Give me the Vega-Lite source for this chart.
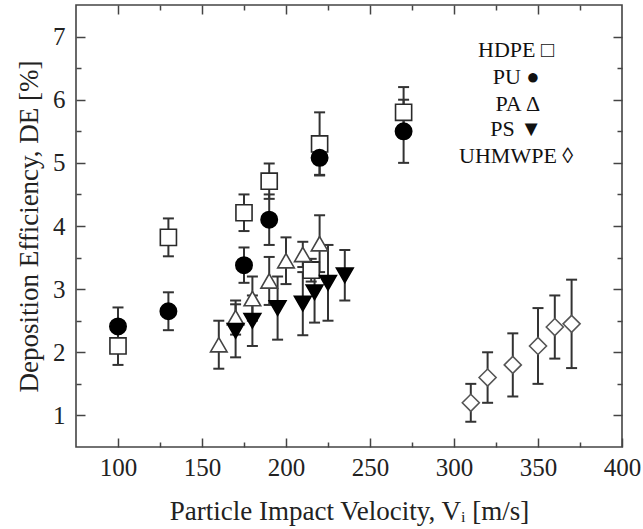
{
  "$schema": "https://vega.github.io/schema/vega-lite/v6.json",
  "width": 546,
  "height": 442,
  "autosize": "none",
  "padding": {"left": 76, "top": 5, "right": 21, "bottom": 82},
  "background": "white",
  "config": {
    "view": {"stroke": "#444", "strokeWidth": 1.6},
    "font": "Liberation Serif",
    "style": {"guide-label": {"font": "Liberation Serif", "fontSize": 25, "fill": "#222"}, "guide-title": {"font": "Liberation Serif", "fontSize": 27, "fontWeight": "normal", "fill": "#222"}},
    "axis": {"labelFont": "Liberation Serif", "labelFontSize": 25, "labelColor": "#222", "titleFont": "Liberation Serif", "titleFontWeight": "normal", "titleColor": "#222", "domain": false, "grid": false, "tickColor": "#444", "tickWidth": 1.5}
  },
  "datasets": {
    "pts": [
      {"s": "HDPE", "v": 100, "de": 2.1, "lo": 1.8, "hi": 2.4},
      {"s": "HDPE", "v": 130, "de": 3.82, "lo": 3.52, "hi": 4.12},
      {"s": "HDPE", "v": 175, "de": 4.21, "lo": 3.92, "hi": 4.5},
      {"s": "HDPE", "v": 190, "de": 4.71, "lo": 4.43, "hi": 4.99},
      {"s": "HDPE", "v": 215, "de": 3.3, "lo": 3.12, "hi": 3.48},
      {"s": "HDPE", "v": 220, "de": 5.3, "lo": 4.8, "hi": 5.8},
      {"s": "HDPE", "v": 270, "de": 5.8, "lo": 5.4, "hi": 6.2},
      {"s": "PU", "v": 100, "de": 2.41, "lo": 2.11, "hi": 2.71},
      {"s": "PU", "v": 130, "de": 2.65, "lo": 2.35, "hi": 2.95},
      {"s": "PU", "v": 175, "de": 3.38, "lo": 3.1, "hi": 3.66},
      {"s": "PU", "v": 190, "de": 4.1, "lo": 3.7, "hi": 4.5},
      {"s": "PU", "v": 220, "de": 5.08, "lo": 4.81, "hi": 5.35},
      {"s": "PU", "v": 270, "de": 5.5, "lo": 5.0, "hi": 6.0},
      {"s": "PA", "v": 160, "de": 2.12, "lo": 1.74, "hi": 2.5},
      {"s": "PA", "v": 170, "de": 2.55, "lo": 2.28, "hi": 2.82},
      {"s": "PA", "v": 180, "de": 2.85, "lo": 2.5, "hi": 3.2},
      {"s": "PA", "v": 190, "de": 3.13, "lo": 2.75, "hi": 3.51},
      {"s": "PA", "v": 200, "de": 3.45, "lo": 3.08, "hi": 3.82},
      {"s": "PA", "v": 210, "de": 3.55, "lo": 3.35, "hi": 3.75},
      {"s": "PA", "v": 220, "de": 3.72, "lo": 3.27, "hi": 4.17},
      {"s": "PS", "v": 170, "de": 2.34, "lo": 1.92, "hi": 2.76},
      {"s": "PS", "v": 180, "de": 2.5, "lo": 2.1, "hi": 2.9},
      {"s": "PS", "v": 195, "de": 2.7, "lo": 2.2, "hi": 3.2},
      {"s": "PS", "v": 210, "de": 2.77, "lo": 2.27, "hi": 3.27},
      {"s": "PS", "v": 217, "de": 2.95, "lo": 2.47, "hi": 3.43},
      {"s": "PS", "v": 225, "de": 3.1, "lo": 2.5, "hi": 3.7},
      {"s": "PS", "v": 235, "de": 3.22, "lo": 2.82, "hi": 3.62},
      {"s": "UHMWPE", "v": 310, "de": 1.2, "lo": 0.9, "hi": 1.5},
      {"s": "UHMWPE", "v": 320, "de": 1.6, "lo": 1.2, "hi": 2.0},
      {"s": "UHMWPE", "v": 335, "de": 1.8, "lo": 1.3, "hi": 2.3},
      {"s": "UHMWPE", "v": 350, "de": 2.1, "lo": 1.5, "hi": 2.7},
      {"s": "UHMWPE", "v": 360, "de": 2.4, "lo": 1.9, "hi": 2.9},
      {"s": "UHMWPE", "v": 370, "de": 2.45, "lo": 1.75, "hi": 3.15}
    ],
    "leg": [
      {"x": 337, "y": 6.79, "t": "HDPE □"},
      {"x": 337, "y": 6.36, "t": "PU ●"},
      {"x": 338, "y": 5.93, "t": "PA Δ"},
      {"x": 337, "y": 5.53, "t": "PS ▼"},
      {"x": 337, "y": 5.11, "t": "UHMWPE ◊"}
    ]
  },
  "resolve": {"axis": {"x": "independent", "y": "independent"}},
  "layer": [
    {
      "data": {"name": "pts"},
      "mark": {"type": "rule", "color": "#333333", "strokeWidth": 2},
      "encoding": {
        "x": {"field": "v", "type": "quantitative", "scale": {"domain": [75, 400], "nice": false, "zero": false}, "axis": null},
        "y": {"field": "lo", "type": "quantitative", "scale": {"domain": [0.5, 7.5], "nice": false, "zero": false}, "axis": null},
        "y2": {"field": "hi"}
      }
    },
    {
      "data": {"name": "pts"},
      "mark": {"type": "tick", "orient": "horizontal", "color": "#333333", "size": 11, "thickness": 2, "opacity": 1},
      "encoding": {
        "x": {"field": "v", "type": "quantitative", "axis": null},
        "y": {"field": "lo", "type": "quantitative", "axis": null}
      }
    },
    {
      "data": {"name": "pts"},
      "mark": {"type": "tick", "orient": "horizontal", "color": "#333333", "size": 11, "thickness": 2, "opacity": 1},
      "encoding": {
        "x": {"field": "v", "type": "quantitative", "axis": null},
        "y": {"field": "hi", "type": "quantitative", "axis": null}
      }
    },
    {
      "data": {"name": "pts"},
      "mark": {"type": "point", "opacity": 1, "strokeWidth": 1.6},
      "encoding": {
        "x": {"field": "v", "type": "quantitative",
          "axis": {"orient": "bottom", "values": [100, 150, 200, 250, 300, 350, 400],
            "format": "d", "tickSize": -9,
            "labelFontSize": 25, "labelFont": "Liberation Serif", "labelColor": "#222", "labelPadding": 17,
            "labelFlush": false, "labelOverlap": false,
            "title": "Particle Impact Velocity, Vᵢ [m/s]", "titleFontSize": 27, "titlePadding": 18}},
        "y": {"field": "de", "type": "quantitative",
          "axis": {"orient": "left", "values": [1, 2, 3, 4, 5, 6, 7],
            "format": "d", "tickSize": -9,
            "labelFontSize": 25, "labelFont": "Liberation Serif", "labelColor": "#222", "labelPadding": 20,
            "labelOverlap": false,
            "title": "Deposition Efficiency, DE [%]", "titleFontSize": 27, "titlePadding": 9}},
        "shape": {"field": "s", "type": "nominal", "legend": null,
          "scale": {"domain": ["HDPE", "PU", "PA", "PS", "UHMWPE"], "range": ["square", "circle", "triangle-up", "triangle-down", "diamond"]}},
        "fill": {"field": "s", "type": "nominal", "legend": null,
          "scale": {"domain": ["HDPE", "PU", "PA", "PS", "UHMWPE"], "range": ["#ffffff", "#000000", "#ffffff", "#000000", "#ffffff"]}},
        "stroke": {"field": "s", "type": "nominal", "legend": null,
          "scale": {"domain": ["HDPE", "PU", "PA", "PS", "UHMWPE"], "range": ["#2a2a2a", "#000000", "#444444", "#000000", "#555555"]}},
        "size": {"field": "s", "type": "nominal", "legend": null,
          "scale": {"domain": ["HDPE", "PU", "PA", "PS", "UHMWPE"], "range": [260, 290, 380, 380, 450]}}
      }
    },
    {
      "data": {"name": "leg"},
      "mark": {"type": "text", "font": "Liberation Serif", "fontSize": 22, "color": "#111", "align": "center", "baseline": "middle"},
      "encoding": {
        "x": {"field": "x", "type": "quantitative", "axis": null},
        "y": {"field": "y", "type": "quantitative", "axis": null},
        "text": {"field": "t"}
      }
    },
    {
      "data": {"name": "pts"},
      "mark": {"type": "point", "opacity": 0},
      "encoding": {
        "x": {"field": "v", "type": "quantitative",
          "axis": {"orient": "bottom", "values": [125, 175, 225, 275, 325, 375], "labels": false, "title": null, "tickSize": -5}},
        "y": {"field": "de", "type": "quantitative",
          "axis": {"orient": "left", "values": [1.5, 2.5, 3.5, 4.5, 5.5, 6.5], "labels": false, "title": null, "tickSize": -5}}
      }
    },
    {
      "data": {"name": "pts"},
      "mark": {"type": "point", "opacity": 0},
      "encoding": {
        "x": {"field": "v", "type": "quantitative",
          "axis": {"orient": "top", "values": [100, 150, 200, 250, 300, 350], "labels": false, "title": null, "tickSize": -9}},
        "y": {"field": "de", "type": "quantitative",
          "axis": {"orient": "right", "values": [1, 2, 3, 4, 5, 6, 7], "labels": false, "title": null, "tickSize": -9}}
      }
    },
    {
      "data": {"name": "pts"},
      "mark": {"type": "point", "opacity": 0},
      "encoding": {
        "x": {"field": "v", "type": "quantitative",
          "axis": {"orient": "top", "values": [125, 175, 225, 275, 325, 375], "labels": false, "title": null, "tickSize": -5}},
        "y": {"field": "de", "type": "quantitative",
          "axis": {"orient": "right", "values": [1.5, 2.5, 3.5, 4.5, 5.5, 6.5], "labels": false, "title": null, "tickSize": -5}}
      }
    }
  ]
}
